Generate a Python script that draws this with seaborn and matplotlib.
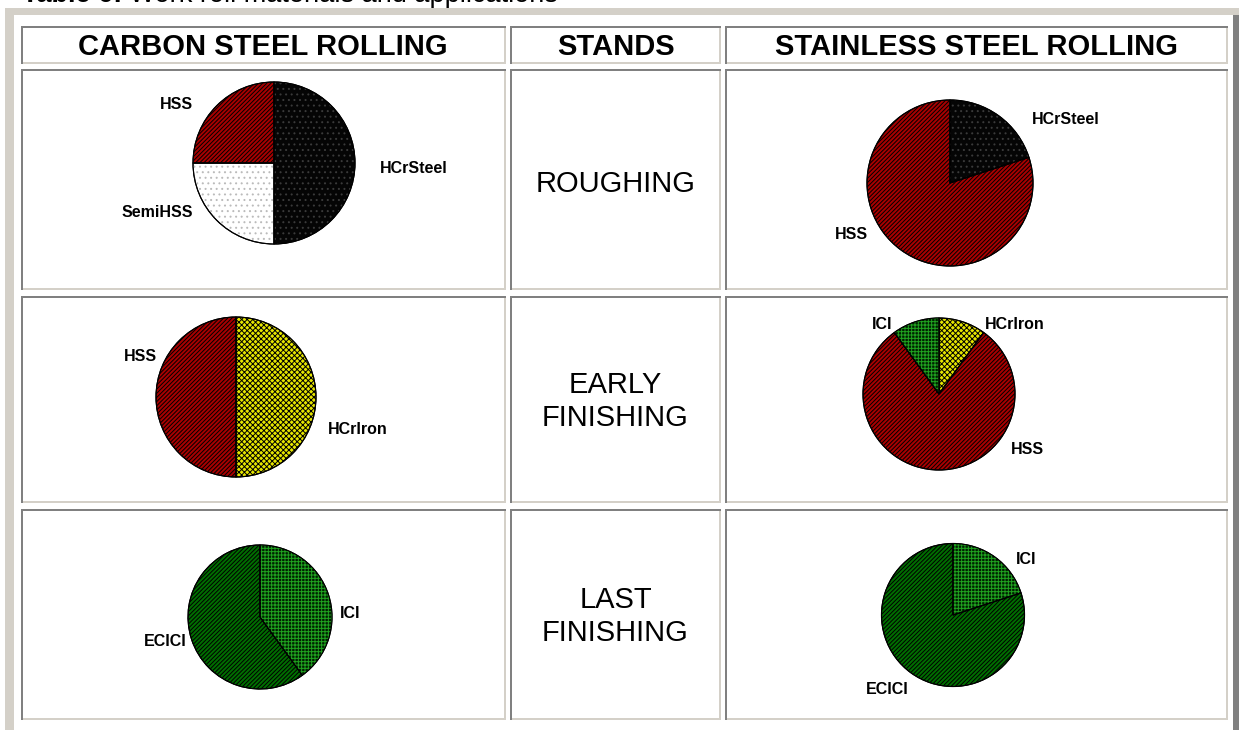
import matplotlib
matplotlib.use("Agg")
import matplotlib.pyplot as plt
from matplotlib.patches import Rectangle
import seaborn as sns

# ---------------- data ----------------
headers = ["CARBON STEEL ROLLING", "STANDS", "STAINLESS STEEL ROLLING"]
stands = ["ROUGHING", "EARLY\nFINISHING", "LAST\nFINISHING"]

carbon_materials = [["HCrSteel", "SemiHSS", "HSS"], ["HCrIron", "HSS"], ["ICI", "ECICI"]]
carbon_shares = [[50, 25, 25], [50, 50], [40, 60]]

stainless_materials = [["HCrSteel", "HSS"], ["HCrIron", "HSS", "ICI"], ["ICI", "ECICI"]]
stainless_shares = [[20, 80], [10, 80, 10], [20, 80]]

title_bold = "Table 6:"
title_rest = " Work roll materials and applications"

# ---------------- styles / layout ----------------
sns.set_theme(style="white")
plt.rcParams["font.family"] = ["Liberation Sans", "DejaVu Sans"]
plt.rcParams["hatch.linewidth"] = 0.7

BEIGE = "#D4D0C8"
DARK = "#808080"
W, H = 1239, 730

STYLE = {  # face colour, hatch pattern, hatch colour
    "HSS": ("#A80000", "////////", "black"),
    "HCrSteel": ("#050505", "...", "#3a3a3a"),
    "SemiHSS": ("#FFFFFF", "...", "#BBBBBB"),
    "HCrIron": ("#E6E600", "xxxxxx", "black"),
    "ICI": ("#002000", "+++++", "#1FA21F"),
    "ECICI": ("#006E00", "////////", "black"),
}

COLS = [(21, 505.5), (510, 721), (725, 1228)]
ROWS = [(26, 63.5), (69, 290), (296, 503), (509, 720)]

CARBON_GEOM = [(274, 163, 81), (236, 397, 80), (260, 617, 72)]
STAINLESS_GEOM = [(950, 183, 83), (939, 394, 76), (953, 615, 71.5)]

CARBON_LABELS = [
    {"HCrSteel": (1.73, -0.05), "SemiHSS": (-1.44, -0.60), "HSS": (-1.20, 0.74)},
    {"HCrIron": (1.52, -0.39), "HSS": (-1.20, 0.52)},
    {"ICI": (1.25, 0.06), "ECICI": (-1.32, -0.33)},
]
STAINLESS_LABELS = [
    {"HCrSteel": (1.39, 0.78), "HSS": (-1.19, -0.61)},
    {"HCrIron": (1.00, 0.93), "HSS": (1.17, -0.71), "ICI": (-0.75, 0.93)},
    {"ICI": (1.02, 0.80), "ECICI": (-0.92, -1.02)},
]

HEAD_FS = 21
LABEL_FS = 11.5

fig = plt.figure(figsize=(W / 100, H / 100), dpi=100)
fig.patch.set_facecolor("white")
bg = fig.add_axes([0, 0, 1, 1])
bg.set_xlim(0, W)
bg.set_ylim(H, 0)
bg.axis("off")

# outer table frame
bg.add_patch(Rectangle((5, 8), W - 5, 7, color=BEIGE, lw=0))
bg.add_patch(Rectangle((5, 8), 9, H - 8, color=BEIGE, lw=0))
bg.add_patch(Rectangle((1233, 15), 6, H - 15, color=DARK, lw=0))

# cells (inset borders)
for (y0, y1) in ROWS:
    for (x0, x1) in COLS:
        bg.add_patch(Rectangle((x0, y1 - 2), x1 - x0, 2, color=BEIGE, lw=0))
        bg.add_patch(Rectangle((x1 - 2, y0), 2, y1 - y0, color=BEIGE, lw=0))
        bg.add_patch(Rectangle((x0, y0), x1 - x0, 2, color=DARK, lw=0))
        bg.add_patch(Rectangle((x0, y0), 2, y1 - y0, color=DARK, lw=0))

cap = lambda fs: 0.358 * fs * 100 / 72  # half cap-height in px

# header texts
for (x0, x1), txt in zip(COLS, headers):
    yc = (ROWS[0][0] + ROWS[0][1]) / 2 - 0.5
    bg.text((x0 + x1) / 2, yc + cap(HEAD_FS), txt, ha="center", va="baseline",
            fontsize=HEAD_FS, fontweight="bold", color="black")

# stand texts
gap = 33
for (y0, y1), txt in zip(ROWS[1:], stands):
    lines = txt.split("\n")
    yc = (y0 + y1) / 2 + (2 if len(lines) == 1 else -0.5)
    xc = (COLS[1][0] + COLS[1][1]) / 2
    for i, ln in enumerate(lines):
        yy = yc + (i - (len(lines) - 1) / 2) * gap
        bg.text(xc, yy + cap(HEAD_FS), ln, ha="center", va="baseline",
                fontsize=HEAD_FS, color="black")

# title (cut at top of the image, as in the reference)
t1 = bg.text(22, 2, title_bold, ha="left", va="baseline", fontsize=19.5,
             fontweight="bold", color="black")
fig.canvas.draw()
bb = t1.get_window_extent(fig.canvas.get_renderer())
x_end = bg.transData.inverted().transform((bb.x1, 0))[0]
bg.text(x_end, 2, title_rest, ha="left", va="baseline", fontsize=19.5, color="black")


def draw_pie(geom, names, shares, labels):
    cx, cy, r = geom
    pad = 1.1
    ax = fig.add_axes([(cx - r * pad) / W, 1 - (cy + r * pad) / H,
                       2 * r * pad / W, 2 * r * pad / H])
    faces = [STYLE[n][0] for n in names]
    ax.pie(shares, colors=faces, startangle=90, counterclock=False, radius=1,
           wedgeprops=dict(edgecolor="black", linewidth=0.8))
    over, _ = ax.pie(shares, colors=["none"] * len(shares), startangle=90,
                     counterclock=False, radius=1,
                     wedgeprops=dict(linewidth=0))
    for w, n in zip(over, names):
        w.set_facecolor("none")
        w.set_edgecolor(STYLE[n][2])
        w.set_hatch(STYLE[n][1])
        w.set_linewidth(0)
    ax.pie(shares, colors=["none"] * len(shares), startangle=90, counterclock=False,
           radius=1, wedgeprops=dict(edgecolor="black", linewidth=0.8, facecolor="none"))
    ax.set_xlim(-pad, pad)
    ax.set_ylim(-pad, pad)
    ax.set_aspect("equal")
    ax.axis("off")
    for n in names:
        lx, ly = labels[n]
        ax.text(lx, ly - cap(LABEL_FS) / r, n, ha="center", va="baseline",
                fontsize=LABEL_FS, fontweight="bold", color="black", clip_on=False)


for i in range(3):
    draw_pie(CARBON_GEOM[i], carbon_materials[i], carbon_shares[i], CARBON_LABELS[i])
    draw_pie(STAINLESS_GEOM[i], stainless_materials[i], stainless_shares[i], STAINLESS_LABELS[i])

fig.savefig("out.png", dpi=100, facecolor="white")
